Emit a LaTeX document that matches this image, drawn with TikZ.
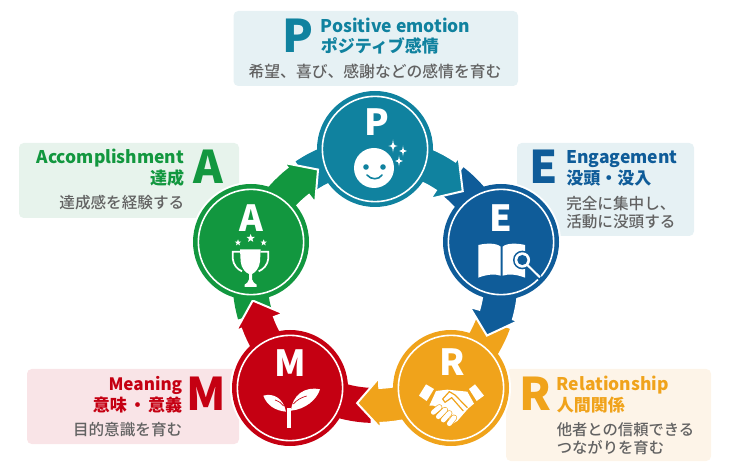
\documentclass[tikz,border=0pt]{standalone}
\usepackage{fontspec}
\newfontfamily\jp{Noto Sans CJK JP}
\newfontfamily\jpm{Noto Sans CJK JP Medium}
\definecolor{cP}{HTML}{10829F}
\definecolor{cE}{HTML}{0F5C99}
\definecolor{cR}{HTML}{F0A31B}
\definecolor{cM}{HTML}{C50012}
\definecolor{cA}{HTML}{12973F}
\definecolor{bP}{HTML}{E6F1F4}
\definecolor{bA}{HTML}{E7F3EC}
\definecolor{bM}{HTML}{F9E4E7}
\definecolor{bR}{HTML}{FDF4E8}
\definecolor{gr}{HTML}{626262}
\tikzset{
  infobox/.style={fill=#1,rounded corners=3.5pt},
  bigl/.style={inner sep=0,font=\jp\bfseries\fontsize{33.75}{36}\selectfont,text=#1},
  ttl/.style={inner sep=0,font=\jp\bfseries\fontsize{12.75}{15}\selectfont,text=#1},
  lat/.style={inner sep=0,font=\jp\bfseries\fontsize{13.1}{15}\selectfont,text=#1},
  dsc/.style={inner sep=0,font=\jpm\fontsize{11.7}{14}\selectfont,text=gr},
  inl/.style={inner sep=0,anchor=base,text=white,font=\jp\bfseries\fontsize{27}{30}\selectfont},
  halo/.style={circle,fill=white,minimum size=90pt,inner sep=0},
  disc/.style={circle,fill=#1,minimum size=87pt,inner sep=0},
  ring/.style={draw=white,line width=1.2pt},
  zoomunits/.style={x=.25pt,y=-.25pt}
}
\newcommand\tailband[2]{\fill[#1] plot[domain=#2:#2+34,samples=14] (\x:143) -- plot[domain=#2+34:#2,samples=14] (\x:108) -- cycle;}
\newcommand\headarrow[2]{\filldraw[fill=#1,draw=white,line width=1.5pt,line join=miter]
  plot[domain=#2:#2-34,samples=14] (\x:143) -- ({#2-34}:148.5) -- ({#2-44.5}:124.5) -- ({#2-34}:98)
  -- plot[domain=#2-34:#2,samples=14] (\x:108) -- cycle;}
\newcommand\sparkle[3]{\fill[white] (#1,#2-#3) .. controls (#1+.12*#3,#2-.12*#3) .. (#1+.7*#3,#2) .. controls (#1+.12*#3,#2+.12*#3) .. (#1,#2+#3) .. controls (#1-.12*#3,#2+.12*#3) .. (#1-.7*#3,#2) .. controls (#1-.12*#3,#2-.12*#3) .. cycle;}
\newcommand\pentstar[3]{\fill[white,shift={(#1,#2)}] (-90:#3) \foreach \k in {1,...,9} { -- ({-90+36*\k}:{ifthenelse(mod(\k,2)==0,#3,0.42*#3)}) } -- cycle;}
\begin{document}
\begin{tikzpicture}[x=.75pt,y=-.75pt]
\useasboundingbox (0,0) rectangle (752,473);
% info boxes
\fill[infobox=bP] (233.5,11) rectangle (518,86);
\fill[infobox=bP] (517,143) rectangle (694,236);
\fill[infobox=bR] (506,369) rectangle (711,461);
\fill[infobox=bM] (27,369) rectangle (239,444);
\fill[infobox=bA] (19,143) rectangle (239,218);
% white halos over the boxes
\node[halo] (haloE) at (501,242) {};
\node[halo] (haloR) at (451,388) {};
\node[halo] (haloM) at (290,388) {};
\node[halo] (haloA) at (251,242) {};
% arrows
\begin{scope}[shift={(375.5,280)},y=.75pt]
\tailband{cP}{90}\tailband{cE}{18}\tailband{cR}{-54}\tailband{cM}{-126}\tailband{cA}{-198}
\headarrow{cP}{90}\headarrow{cE}{18}\headarrow{cR}{-54}\headarrow{cM}{-126}\headarrow{cA}{-198}
\end{scope}
% circles
\node[disc=cP] (cirP) at (375,149) {};
\node[disc=cE] (cirE) at (501,242) {};
\node[disc=cR] (cirR) at (451,388) {};
\node[disc=cM] (cirM) at (290,388) {};
\node[disc=cA] (cirA) at (251,242) {};
\foreach \n in {P,E,R,M,A} { \draw[ring] (cir\n) circle[radius=39.5pt]; }
\node[inl] (lP) at (376.5,136) {P};
\node[inl] (lE) at (501,232) {E};
\node[inl] (lR) at (452,375) {R};
\node[inl] (lM) at (290,376) {M};
\node[inl] (lA) at (251,232) {A};
% smile
\fill[white] (374,168) circle[radius=15pt];
\fill[cP] (366,167) circle[radius=2.1pt] (383,167) circle[radius=2.1pt];
\draw[cP,line width=1.2pt,line cap=round] (367,175) .. controls (371,180) and (379,180) .. (382,175);
\sparkle{393}{146}{6.5}\sparkle{403}{151}{5.5}\sparkle{399}{161}{5.5}
% book
\begin{scope}[shift={(470,235)},zoomunits]
\fill[white] (25,30) .. controls (50,24) and (80,24) .. (92,35) -- (92,122) .. controls (75,116) and (50,118) .. (25,128) -- cycle;
\fill[white] (98,35) .. controls (110,24) and (140,24) .. (165,30) -- (165,128) .. controls (140,118) and (115,116) .. (98,122) -- cycle;
\draw[cE,line width=3.4pt] (172,90) -- (215,135);
\fill[cE] (157,75) circle[radius=7pt];
\fill[white] (157,75) circle[radius=5.8pt];
\fill[cE] (157,75) circle[radius=3.8pt];
\draw[white,line width=1.5pt] (172,90) -- (210,127);
\end{scope}
% handshake
\begin{scope}[shift={(410,375)},zoomunits]
\fill[white] (48,28) -- (72,42) -- (50,78) -- (27,62) -- cycle;
\fill[white] (195,28) -- (222,62) -- (200,78) -- (177,42) -- cycle;
\fill[white] (78,48) -- (112,44) -- (172,50) -- (192,86) -- (175,100) -- (142,138) -- (125,148) -- (115,130) -- (90,100) -- (70,92) -- (58,92) -- cycle;
\foreach \a/\b/\c/\d in {70/112/88/97,85/125/105/105,100/135/118/115,118/146/132/128}{
  \draw[cR,line width=4.6pt,line cap=round] (\a,\b) -- (\c,\d);
  \draw[white,line width=3.6pt,line cap=round] (\a,\b) -- (\c,\d);
}
\draw[cR,line width=.9pt,line join=round] (172,98) -- (135,60) -- (118,50) -- (98,72) -- (105,82) -- (125,68) -- (160,108);
\end{scope}
% sprout
\begin{scope}[shift={(255,380)},zoomunits]
\fill[white] (95,85) rectangle (107,145);
\fill[white] (25,47) .. controls (55,38) and (85,55) .. (93,95) .. controls (60,92) and (35,75) .. (25,47) -- cycle;
\fill[white] (195,28) .. controls (150,18) and (112,45) .. (108,92) .. controls (150,88) and (185,60) .. (195,28) -- cycle;
\draw[cM,line width=.5pt] (60,60) .. controls (72,64) and (80,70) .. (86,78);
\draw[cM,line width=.5pt] (115,72) .. controls (125,60) and (140,52) .. (155,48);
\end{scope}
% trophy
\begin{scope}[shift={(220,230)},zoomunits]
\fill[white] (60,58) -- (122,58) -- (120,95) .. controls (118,115) and (105,128) .. (96,132) -- (96,148) .. controls (97,155) and (105,162) .. (110,164) -- (110,171) -- (74,171) -- (74,164) .. controls (79,162) and (86,155) .. (87,148) -- (87,132) .. controls (77,128) and (64,115) .. (62,95) -- cycle;
\draw[white,line width=1.3pt] (60,65) -- (38,65) -- (38,85) .. controls (40,105) and (52,118) .. (66,124);
\draw[white,line width=1.3pt] (122,65) -- (145,65) -- (145,85) .. controls (143,105) and (130,118) .. (116,124);
\pentstar{92}{25}{13}\pentstar{54}{38}{10}\pentstar{131}{38}{10}
\end{scope}
% P text
\node[bigl=cP,anchor=base] (bigP) at (298,53) {P};
\node[lat=cP,anchor=base west] (tP1) at (320.5,32.5) {Positive emotion};
\node[ttl=cP,anchor=base west] (tP2) at (320.5,53) {ポジティブ感情};
\node[dsc,anchor=base,font=\jpm\fontsize{11.85}{14}\selectfont] (dP) at (375,77.5) {希望、喜び、感謝などの感情を育む};
% E text
\node[bigl=cE,anchor=base] (bigE) at (544,184) {E};
\node[lat=cE,anchor=base west] (tE1) at (566,164) {Engagement};
\node[ttl=cE,anchor=base west] (tE2) at (566,184.5) {没頭・没入};
\node[dsc,anchor=base west] (dE1) at (566,209.5) {完全に集中し、};
\node[dsc,anchor=base west] (dE2) at (566,228) {活動に没頭する};
% R text
\node[bigl=cR,anchor=base] (bigR) at (535,410) {R};
\node[lat=cR,anchor=base west] (tR1) at (556.5,390.5) {Relationship};
\node[ttl=cR,anchor=base west] (tR2) at (556.5,411) {人間関係};
\node[dsc,anchor=base west,font=\jpm\fontsize{11.5}{14}\selectfont] (dR1) at (556.5,435) {他者との信頼できる};
\node[dsc,anchor=base west,font=\jpm\fontsize{11.5}{14}\selectfont] (dR2) at (556.5,453.5) {つながりを育む};
% M text
\node[bigl=cM,anchor=base] (bigM) at (206,410) {M};
\node[lat=cM,anchor=base east,font=\jp\bfseries\fontsize{12.8}{15}\selectfont] (tM1) at (182.5,390) {Meaning};
\node[ttl=cM,anchor=base east] (tM2) at (182.5,411) {意味\hspace{1.6pt}・\hspace{1.6pt}意義};
\node[dsc,anchor=base east] (dM) at (182.5,435) {目的意識を育む};
% A text
\node[bigl=cA,anchor=base] (bigA) at (208,184) {A};
\node[lat=cA,anchor=base east] (tA1) at (184.5,163.5) {Accomplishment};
\node[ttl=cA,anchor=base east] (tA2) at (184.5,184.5) {達成};
\node[dsc,anchor=base east] (dA) at (184.5,209) {達成感を経験する};
\end{tikzpicture}
\end{document}
